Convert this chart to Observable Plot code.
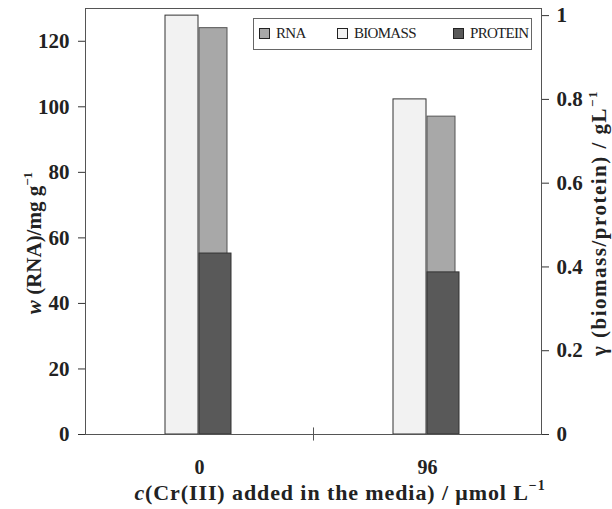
<!DOCTYPE html>
<html>
<head>
<meta charset="utf-8">
<script src="https://cdn.jsdelivr.net/npm/d3@7"></script>
<script src="https://cdn.jsdelivr.net/npm/@observablehq/plot@0.6"></script>
<style>
  body { margin: 0; background: #fff; }
  #wrap { position: relative; width: 612px; height: 509px; font-family: "Liberation Serif", "Times New Roman", serif; }
  #legend { position: absolute; left: 253px; top: 18px; width: 279px; height: 32px; border: 1px solid #666;
            background: #fff; font-size: 15px; letter-spacing: -0.7px; color: #222; box-sizing: border-box; }
  #legend .item { display: flex; align-items: center; position: absolute; top: 6px; }
  #legend .sw { width: 9px; height: 9px; border: 1px solid #222; margin-right: 6px; }
</style>
</head>
<body>
<div id="wrap"><div id="legend"></div></div>
<script>
// ---- data ----
const categories = ["0", "96"];
const rnaValues = [124, 97];          // w(RNA), mg g^-1 (left axis)
const biomassValues = [1.0, 0.80];    // γ(biomass), g L^-1 (right axis)
const proteinValues = [0.432, 0.387]; // γ(protein), g L^-1 (right axis)
const leftTicks = [0, 20, 40, 60, 80, 100, 120];
const rightTicks = [0, 0.2, 0.4, 0.6, 0.8, 1];
const seriesNames = ["RNA", "BIOMASS", "PROTEIN"];
const seriesColors = ["#a8a8a8", "#f2f2f2", "#595959"];

const leftMax = 130, rightMax = 1.017;
const k = leftMax / rightMax;

const rows = categories.map((c, i) => ({
  cat: c, rna: rnaValues[i], biomass: biomassValues[i] * k, protein: proteinValues[i] * k
}));

const plot = Plot.plot({
  width: 612, height: 509,
  marginLeft: 85, marginRight: 71, marginTop: 8, marginBottom: 75,
  style: { fontFamily: "Liberation Serif, serif", background: "transparent", color: "#222" },
  x: { domain: categories, padding: 0, axis: null },
  y: { domain: [0, leftMax], axis: null },
  marks: [
    Plot.barY(rows, { x: "cat", y: "biomass", fill: seriesColors[1], stroke: "#333", strokeWidth: 1, insetLeft: 80, insetRight: 115 }),
    Plot.barY(rows, { x: "cat", y: "rna", fill: seriesColors[0], stroke: "#555", strokeWidth: 1, insetLeft: 114, insetRight: 86 }),
    Plot.barY(rows, { x: "cat", y: "protein", fill: seriesColors[2], stroke: "#333", strokeWidth: 1, insetLeft: 114, insetRight: 82 }),
    Plot.frame({ stroke: "#555" }),
    Plot.axisY({ anchor: "left", ticks: leftTicks, tickSize: 7, tickPadding: 9, fontSize: 21, fontWeight: "bold", label: null, stroke: "#333" }),
    Plot.axisY({ anchor: "right", ticks: rightTicks.map(t => t * k), tickFormat: d => String(+(d / k).toFixed(1)),
                 tickSize: 7, tickPadding: 8, fontSize: 21, fontWeight: "bold", label: null, stroke: "#333" }),
    Plot.axisX({ anchor: "bottom", tickSize: 0, tickPadding: 25, fontSize: 20, fontWeight: "bold", label: null }),
    Plot.ruleX([categories[0]], { x: d => d, dx: 114, y1: -2, y2: 2, stroke: "#555", clip: false })
  ]
});
document.getElementById("wrap").prepend(plot);

// ---- titles ----
const svg = d3.select(plot);
const lt = svg.append("text").attr("transform", "translate(41,243) rotate(-90)")
  .attr("text-anchor", "middle").attr("font-size", 21).attr("font-weight", "bold").attr("fill", "#222");
lt.append("tspan").attr("font-style", "italic").text("w");
lt.append("tspan").text(" (RNA)/mg g");
lt.append("tspan").attr("font-size", 13).attr("dy", -9).text("−1");

const rt = svg.append("text").attr("transform", "translate(606,223) rotate(-90)")
  .attr("text-anchor", "middle").attr("font-size", 21).attr("font-weight", "bold")
  .attr("letter-spacing", 1.5).attr("fill", "#222");
rt.append("tspan").text("γ (biomass/protein) / gL");
rt.append("tspan").attr("font-size", 13).attr("dy", -9).text("−1");

const xt = svg.append("text").attr("x", 340).attr("y", 500)
  .attr("text-anchor", "middle").attr("font-size", 22).attr("font-weight", "bold")
  .attr("letter-spacing", 0.9).attr("fill", "#222");
xt.append("tspan").attr("font-style", "italic").text("c");
xt.append("tspan").text("(Cr(III) added in the media) / μmol L");
xt.append("tspan").attr("font-size", 14).attr("dy", -10).text("−1");

// ---- legend ----
const legendX = [5, 83, 199];
const lg = d3.select("#legend");
seriesNames.forEach((name, i) => {
  const it = lg.append("div").attr("class", "item").style("left", legendX[i] + "px");
  it.append("div").attr("class", "sw").style("background", seriesColors[i]);
  it.append("span").text(name);
});
</script>
</body>
</html>
